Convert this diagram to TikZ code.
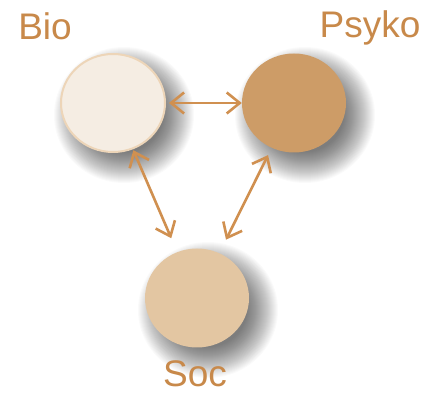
\documentclass[tikz,border=0pt]{standalone}
\usepackage{fontspec}
\setmainfont{Liberation Sans}
\usetikzlibrary{shapes.geometric,arrows.meta,calc}
\definecolor{labelc}{HTML}{C8894A}
\definecolor{arrowc}{HTML}{D09050}
\definecolor{biofill}{HTML}{F5EDE3}
\definecolor{bioedge}{HTML}{EDD5B8}
\definecolor{psyfill}{HTML}{CD9C67}
\definecolor{socfill}{HTML}{E3C6A2}
% soft drop shadow built from stacked translucent ellipses
\newcommand{\softshadow}[2]{%
  \foreach \k in {0,...,31}{
    \fill[black, opacity=0.02] ($(#1)+(11,12)$) ellipse ({#2+26-1.0*\k} and {#2+24-1.0*\k});
  }%
}
\tikzset{
  barb/.tip={Straight Barb[length=13pt,width=21pt,line width=2.6pt]},
  ball/.style={ellipse, inner sep=0pt, minimum width=104pt, minimum height=99pt},
  lbl/.style={text=labelc, font=\fontsize{37}{40}\selectfont, inner sep=0pt, anchor=base},
  link/.style={draw=arrowc, line width=2.6pt, barb-barb}
}
\begin{document}
\begin{tikzpicture}[x=1pt,y=-1pt]
  \fill[white] (0,0) rectangle (426,395);
  \useasboundingbox (0,0) rectangle (426,395);

  \coordinate (cb) at (113,103);
  \coordinate (cp) at (294,103);
  \coordinate (cs) at (197,298);
  \softshadow{cb}{44}
  \softshadow{cp}{44}
  \softshadow{cs}{44}

  \node[ball, fill=biofill, draw=bioedge, line width=2pt, minimum width=104pt, minimum height=98pt] (bio) at (cb) {};
  \node[ball, fill=psyfill] (psy) at (cp) {};
  \node[ball, fill=socfill] (soc) at (cs) {};

  \node[lbl] (biot) at (45,40) {Bio};
  \node[lbl] (psyt) at (370,38) {Psyko};
  \node[lbl] (soct) at (195,387) {Soc};

  \draw[link, shorten <=3pt, shorten >=0pt] (bio) -- (psy);
  \draw[link, shorten <=1pt, shorten >=15pt] (bio) -- (soc);
  \draw[link, shorten <=8pt, shorten >=15pt] (psy) -- (soc);
\end{tikzpicture}
\end{document}
